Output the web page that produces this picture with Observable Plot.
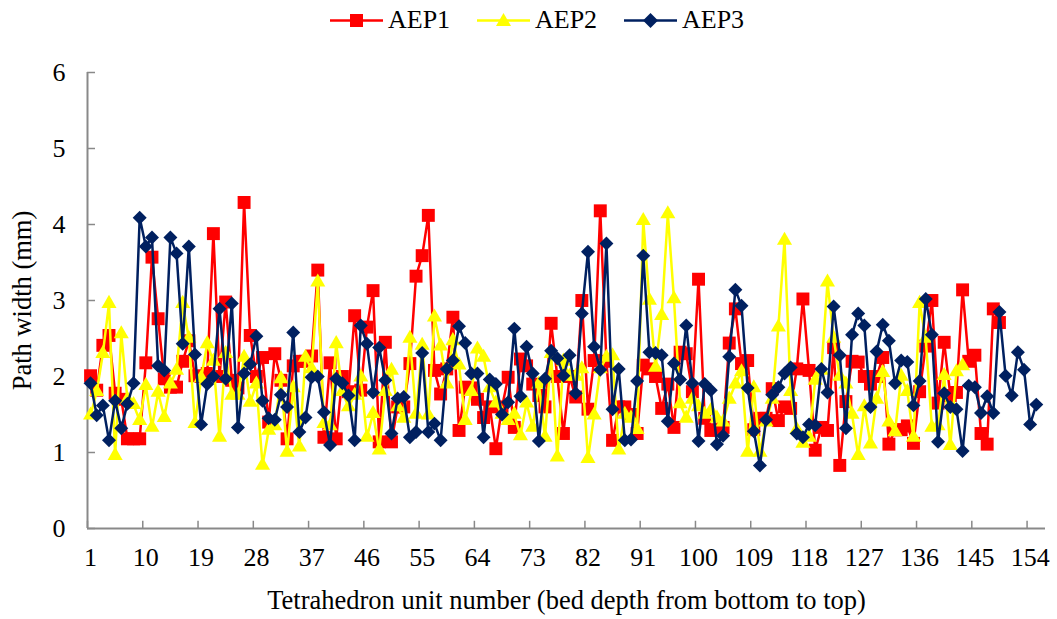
<!DOCTYPE html>
<html><head><meta charset="utf-8">
<script src="https://cdn.jsdelivr.net/npm/d3@7"></script>
<script src="https://cdn.jsdelivr.net/npm/@observablehq/plot@0.6"></script>
<style>
body{margin:0;background:#fff;font-family:"Liberation Serif","Times New Roman",serif;}
#legend{position:relative;height:40px;width:1057px;font-size:26px;}
.li{position:absolute;top:0;height:40px;display:flex;align-items:center;}
.li svg{margin-right:5px;}
</style></head><body>
<div id="legend"></div><div id="chart"></div>
<script>
const xTicks = [1,10,19,28,37,46,55,64,73,82,91,100,109,118,127,136,145,154];
const yTicks = [0,1,2,3,4,5,6];
const seriesNames = ["AEP1","AEP2","AEP3"];
const seriesColors = ["#ff0000","#ffff00","#002060"];
const seriesSymbols = ["square","triangle","diamond2"];

const aep1 = [2.01,1.82,2.41,2.54,1.78,1.7,1.18,1.18,1.18,2.18,3.57,2.76,1.97,1.86,1.86,2.2,2.47,2.01,2.0,2.04,
3.88,2.0,2.98,1.95,1.85,4.29,2.54,2.0,2.25,1.4,2.3,1.95,1.18,2.14,2.2,2.2,2.27,3.4,1.2,2.18,
1.18,2.0,1.8,2.8,1.82,2.65,3.13,1.14,2.45,1.14,1.6,1.6,2.17,3.32,3.59,4.12,2.08,1.77,2.1,2.78,
1.29,1.86,1.85,1.7,1.46,1.6,1.05,1.6,1.99,1.33,2.23,2.14,1.9,1.75,1.6,2.7,2.0,1.25,2.0,1.73,
3.0,1.57,2.21,4.18,2.2,1.16,1.6,1.6,1.5,1.25,2.15,2.1,2.0,1.58,1.9,1.33,2.32,2.3,1.8,3.28,
1.45,1.29,1.3,1.33,2.44,2.89,2.17,2.21,1.3,1.45,1.45,1.84,1.42,1.6,1.58,2.1,3.02,2.08,1.03,1.33,
1.29,2.38,0.83,1.67,2.2,2.19,2.0,1.9,2.0,2.25,1.11,1.3,1.3,1.35,1.12,1.8,2.4,3.0,1.65,2.45,
1.75,1.79,3.14,2.2,2.28,1.25,1.11,2.89,2.71];

const aep2 = [1.49,1.8,2.3,2.96,0.96,2.56,1.7,1.63,1.42,1.88,1.33,1.79,1.46,1.9,2.08,2.96,2.5,1.38,1.98,2.43,
2.2,1.2,2.3,1.75,1.75,2.25,1.66,1.9,0.83,1.29,1.35,1.97,1.0,1.85,1.07,2.25,2.1,3.24,1.38,1.35,
2.43,1.8,1.6,1.75,1.99,1.2,1.51,1.03,1.8,2.08,1.6,1.45,2.5,1.5,2.41,1.49,2.78,2.4,1.9,2.47,
2.15,1.42,1.8,2.36,2.25,1.85,1.65,1.5,1.42,1.5,1.22,1.65,1.33,1.9,1.2,2.3,0.94,2.2,2.0,2.0,
2.1,0.92,1.49,2.1,2.25,2.27,1.03,1.5,1.45,1.3,4.05,3.0,2.12,2.8,4.14,3.02,1.64,1.45,1.7,1.6,
1.5,1.55,1.45,1.4,1.7,1.9,2.06,1.0,1.85,1.0,1.4,1.7,2.65,3.79,1.8,1.3,1.12,1.2,1.95,2.08,
3.24,2.5,2.0,1.9,1.5,0.96,1.6,1.11,1.7,2.05,1.4,1.27,2.0,1.8,1.2,2.96,2.5,1.33,1.35,2.01,
1.09,2.06,2.14];

const aep3 = [1.91,1.49,1.62,1.16,1.68,1.32,1.64,1.91,4.09,3.71,3.83,2.14,2.08,3.83,3.62,2.43,3.71,2.29,1.37,1.9,
2.0,2.89,1.97,2.96,1.33,2.04,2.16,2.53,1.68,1.45,1.43,1.76,1.6,2.58,1.27,1.46,1.99,2.0,1.53,1.1,
1.97,1.91,1.75,1.16,2.67,2.43,1.79,2.38,1.95,1.25,1.71,1.73,1.2,1.27,2.31,1.27,1.38,1.16,2.1,2.21,
2.66,2.44,2.04,2.04,1.2,1.96,1.9,1.5,1.66,2.63,1.74,2.39,2.04,1.15,1.97,2.34,2.24,2.01,2.28,1.78,
2.83,3.64,2.39,2.09,3.75,1.57,2.1,1.16,1.17,1.94,3.59,2.32,2.31,2.28,1.41,2.17,1.96,2.67,1.91,1.15,
1.9,1.82,1.11,1.22,2.26,3.14,2.93,1.85,1.28,0.83,1.43,1.76,1.86,2.04,2.12,1.25,1.2,1.37,1.36,2.1,
1.79,2.92,2.28,1.32,2.55,2.83,2.67,1.6,2.33,2.68,2.47,1.91,2.21,2.19,1.62,1.94,3.02,2.55,1.14,1.78,
1.6,1.57,1.02,1.88,1.86,1.52,1.74,1.52,2.85,2.01,1.75,2.32,2.09,1.37,1.63];

const allSeries = [aep1, aep2, aep3];
const rows = allSeries.map((arr, s) => arr.map((v, i) => ({unit: i + 1, width: v, series: seriesNames[s]})));

// legend
const leg = document.getElementById("legend");
const legLeft = [330, 477, 624];
seriesNames.forEach((name, i) => {
  const d = document.createElement("div");
  d.className = "li";
  d.style.left = legLeft[i] + "px";
  const c = seriesColors[i];
  let marker;
  if (i === 0) marker = `<rect x="20" y="4" width="13" height="13" fill="${c}"/>`;
  else if (i === 1) marker = `<path d="M26.5,3 L34,16 L19,16 Z" fill="${c}"/>`;
  else marker = `<path d="M26.5,3 L34,10.5 L26.5,18 L19,10.5 Z" fill="${c}"/>`;
  d.innerHTML = `<svg width="53" height="21"><line x1="0" x2="53" y1="10.5" y2="10.5" stroke="${c}" stroke-width="2.5"/>${marker}</svg><span>${name}</span>`;
  leg.appendChild(d);
});

const gray = "#898989";
const boundaryTicks = d3.range(0.5, 157, 9);
const marks = [
  Plot.axisX(xTicks, {tickSize: 0, tickPadding: 19, fontSize: 26, label: null}),
  Plot.axisX({ticks: [], tickSize: 0, fontSize: 26.5, label: "Tetrahedron unit number (bed depth from bottom to top)", labelAnchor: "center", labelArrow: "none", labelOffset: 80}),
  Plot.axisY(yTicks, {tickSize: 0, tickPadding: 22, fontSize: 26, tickFormat: d3.format("d"), label: null}),
  Plot.axisY({ticks: [], tickSize: 0, fontSize: 26.5, label: "Path width (mm)", labelAnchor: "center", labelArrow: "none", labelOffset: 75}),
  Plot.ruleX(boundaryTicks, {x: d => d, y1: 0, y2: 0.095, stroke: gray, strokeWidth: 1.5}),
  Plot.ruleY(yTicks, {y: d => d, x1: 0.5, x2: 1.8, stroke: gray, strokeWidth: 1.5}),
  Plot.ruleY([0], {stroke: gray, strokeWidth: 2}),
  Plot.ruleX([0.5], {stroke: gray, strokeWidth: 2})
];
const radii = [7.3, 5.6, 6.3];
rows.forEach((data, s) => {
  marks.push(Plot.line(data, {x: "unit", y: "width", stroke: seriesColors[s], strokeWidth: 2.5}));
  marks.push(Plot.dot(data, {x: "unit", y: "width", fill: seriesColors[s], stroke: "none", symbol: () => seriesSymbols[s], r: radii[s]}));
});

const chart = Plot.plot({
  width: 1057,
  height: 579,
  marginTop: 32,
  marginBottom: 91,
  marginLeft: 87,
  marginRight: 12,
  style: {fontFamily: "'Liberation Serif','Times New Roman',serif", fontSize: "26px", color: "#000", background: "#fff"},
  x: {domain: [0.5, 156.5]},
  y: {domain: [0, 6]},
  symbol: {type: "identity"},
  marks
});
document.getElementById("chart").appendChild(chart);
</script>
</body></html>
